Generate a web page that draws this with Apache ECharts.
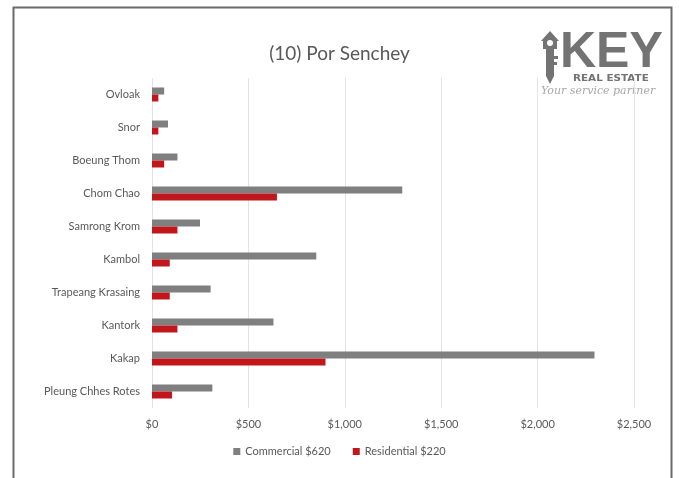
<!DOCTYPE html>
<html>
<head>
<meta charset="utf-8">
<style>
  html, body { margin: 0; padding: 0; background: #fff; }
  #chart { width: 679px; height: 478px; }
</style>
<script src="https://cdn.jsdelivr.net/npm/echarts@6/dist/echarts.min.js"></script>
</head>
<body>
<div id="chart"></div>
<script>
// Land prices per m² by commune, Por Senchey district
const communes = ['Ovloak', 'Snor', 'Boeung Thom', 'Chom Chao', 'Samrong Krom', 'Kambol',
                  'Trapeang Krasaing', 'Kantork', 'Kakap', 'Pleung Chhes Rotes'];
const commercial = [63, 83, 132, 1298, 249, 852, 304, 630, 2295, 313];
const residential = [33, 33, 63, 648, 132, 92, 92, 132, 900, 104];
const seriesNames = ['Commercial $620', 'Residential $220'];
const xTicks = [0, 500, 1000, 1500, 2000, 2500];

const textColor = '#595959';
const font = 'Lato, "Open Sans", sans-serif';
const logoGrey = '#737373';

const chart = echarts.init(document.getElementById('chart'), null, { renderer: 'canvas' });

chart.setOption({
  backgroundColor: '#ffffff',
  animation: false,
  title: {
    text: '(10) Por Senchey',
    left: 'center',
    top: 39,
    textStyle: { color: textColor, fontFamily: font, fontWeight: 'normal', fontSize: 19 }
  },
  legend: {
    bottom: 16,
    left: 'center',
    itemWidth: 7,
    itemHeight: 7,
    itemGap: 22,
    icon: 'rect',
    textStyle: { color: textColor, fontFamily: font, fontSize: 11 },
    data: seriesNames
  },
  grid: { left: 152, right: 45, top: 78, bottom: 70, containLabel: false },
  xAxis: {
    type: 'value',
    min: xTicks[0],
    max: xTicks[xTicks.length - 1],
    interval: 500,
    axisLine: { show: false },
    axisTick: { show: false },
    splitLine: { lineStyle: { color: '#e3e3e3', width: 1 } },
    axisLabel: {
      color: textColor, fontFamily: font, fontSize: 11, margin: 11,
      formatter: v => '$' + v.toLocaleString('en-US')
    }
  },
  yAxis: {
    type: 'category',
    inverse: true,
    data: communes,
    axisLine: { show: false },
    axisTick: { show: false },
    axisLabel: { color: textColor, fontFamily: font, fontSize: 11, margin: 12 }
  },
  series: [
    {
      name: seriesNames[0], type: 'bar', data: commercial,
      barWidth: 7, barGap: '0%',
      itemStyle: { color: '#7f7f7f' }
    },
    {
      name: seriesNames[1], type: 'bar', data: residential,
      barWidth: 7,
      itemStyle: { color: '#c0161c' }
    }
  ],
  graphic: [
    // outer frame
    {
      type: 'rect', silent: true,
      shape: { x: 13.5, y: 7.5, width: 658, height: 490 },
      style: { fill: 'none', stroke: '#6b6b6b', lineWidth: 2 }
    },
    // logo: house-shaped key head with shaft
    { type: 'polygon', silent: true,
      shape: { points: [[541,41],[550,31],[559,41],[557,41],[557,49],[543,49],[543,41]] },
      style: { fill: logoGrey } },
    { type: 'circle', silent: true, shape: { cx: 550, cy: 43, r: 3 }, style: { fill: '#ffffff' } },
    { type: 'polygon', silent: true,
      shape: { points: [[546,49],[554,49],[554,76],[550,84],[546,76]] },
      style: { fill: logoGrey } },
    { type: 'rect', silent: true, shape: { x: 554, y: 56, width: 4, height: 3 }, style: { fill: logoGrey } },
    { type: 'rect', silent: true, shape: { x: 554, y: 62, width: 3, height: 3 }, style: { fill: logoGrey } },
    { type: 'text', silent: true,
      style: { x: 560, y: 78, text: 'KEY', fill: logoGrey, verticalAlign: 'bottom',
               font: 'bold 50px "Liberation Sans", sans-serif' } },
    { type: 'text', silent: true, x: 573, y: 75, scaleX: 1.3,
      style: { x: 0, y: 0, text: 'REAL ESTATE', fill: logoGrey,
               font: 'bold 8px "DejaVu Sans", sans-serif' } },
    { type: 'text', silent: true,
      style: { x: 541, y: 86, text: 'Your service partner', fill: '#a8a8a8',
               font: 'italic 11px "DejaVu Serif", serif' } }
  ]
});
</script>
</body>
</html>
